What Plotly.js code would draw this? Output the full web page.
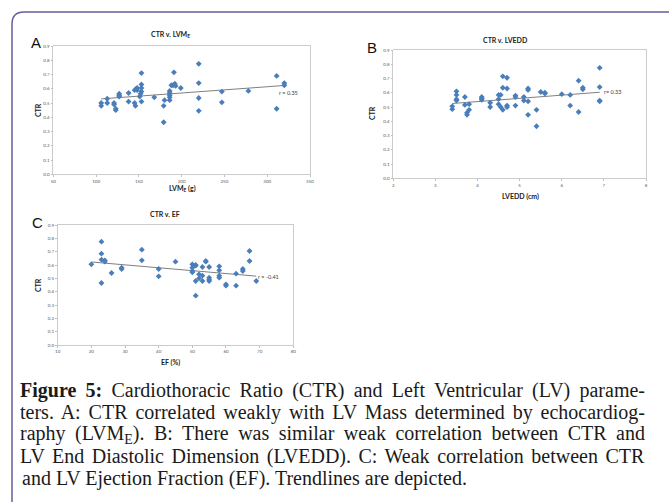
<!DOCTYPE html>
<html><head><meta charset="utf-8">
<script src="https://cdn.plot.ly/plotly-3.0.1.min.js"></script>
<style>html,body{margin:0;padding:0;background:#fff;}#chart{width:669px;height:502px;}</style>
</head><body><div id="chart"></div>
<script>
// Panel A: CTR vs LVM_E (g)
const lvmE = [106,106,113,113,121,121,123,123,127,127,127,138,138,145,145,146,147,148,148,151,152,153,153,153,153,153,168,179,180,179,186,186,186,186,186,188,190,191,192,193,199,220,220,220,220,247,247,278,311,311,320,320];
const ctrA = [0.50,0.48,0.53,0.50,0.50,0.49,0.46,0.45,0.565,0.555,0.545,0.57,0.51,0.59,0.50,0.48,0.60,0.59,0.605,0.545,0.565,0.71,0.63,0.605,0.58,0.51,0.54,0.48,0.52,0.365,0.585,0.57,0.555,0.54,0.52,0.625,0.625,0.715,0.635,0.62,0.605,0.775,0.64,0.535,0.445,0.58,0.505,0.585,0.69,0.46,0.64,0.625];
// Panel B: CTR vs LVEDD (cm)
const lvedd = [3.4,3.4,3.5,3.5,3.5,3.5,3.7,3.7,3.75,3.75,3.8,3.8,4.1,4.1,4.1,4.3,4.3,4.5,4.5,4.5,4.55,4.55,4.6,4.6,4.6,4.7,4.7,4.7,4.7,4.9,4.9,4.9,5.1,5.1,5.2,5.2,5.2,5.2,5.4,5.4,5.5,5.6,5.6,6.0,6.2,6.2,6.4,6.4,6.5,6.5,6.9,6.9,6.9,6.9];
const ctrB = [0.505,0.485,0.61,0.585,0.555,0.545,0.57,0.515,0.46,0.445,0.52,0.48,0.57,0.56,0.55,0.53,0.50,0.585,0.555,0.52,0.585,0.50,0.715,0.635,0.48,0.705,0.63,0.51,0.50,0.58,0.57,0.51,0.57,0.545,0.63,0.62,0.54,0.445,0.48,0.365,0.605,0.60,0.595,0.59,0.585,0.51,0.685,0.465,0.635,0.625,0.775,0.64,0.545,0.54];
// Panel C: CTR vs EF (%)
const ef = [20,23,23,23,23,24,24,26,29,29,35,35,40,40,45,50,50,50,50,51,51,51,51,52,52,53,53,53,54,54,55,55,55,55,58,58,58,58,60,60,63,63,65,65,67,67,69];
const ctrC = [0.605,0.775,0.685,0.64,0.465,0.635,0.625,0.54,0.58,0.57,0.715,0.635,0.57,0.515,0.625,0.605,0.58,0.555,0.545,0.60,0.595,0.48,0.37,0.53,0.50,0.585,0.52,0.48,0.63,0.625,0.585,0.505,0.49,0.48,0.59,0.56,0.52,0.505,0.455,0.445,0.535,0.445,0.57,0.555,0.705,0.63,0.48];

const titles = ['CTR v. LVM<sub>E</sub>','CTR v. LVEDD','CTR v. EF'];
const xTitles = ['LVM<sub>E</sub> (g)','LVEDD (cm)','EF (%)'];
const rLabels = ['r = 0.35','r= 0.33','r = -0.41'];
const captionLines = [
 '<b>Figure 5:</b> Cardiothoracic Ratio (CTR) and Left Ventricular (LV) parame-',
 'ters. A: CTR correlated weakly with LV Mass determined by echocardiog-',
 'raphy (LVM<sub>E</sub>). B: There was similar weak correlation between CTR and',
 'LV End Diastolic Dimension (LVEDD). C: Weak correlation between CTR',
 'and LV Ejection Fraction (EF). Trendlines are depicted.'
];

function fit(xs, ys){
  const n=xs.length; let sx=0,sy=0,sxx=0,sxy=0;
  for(let i=0;i<n;i++){sx+=xs[i];sy+=ys[i];sxx+=xs[i]*xs[i];sxy+=xs[i]*ys[i];}
  const b=(n*sxy-sx*sy)/(n*sxx-sx*sx), a=(sy-b*sx)/n;
  const x0=Math.min(...xs), x1=Math.max(...xs);
  return {x:[x0,x1], y:[a+b*x0,a+b*x1]};
}

const W=669,H=502;
const boxes = [
  {l:53.3,r:310,t:46,b:174.3, range:[50,350], dtick:50},
  {l:393.3,r:646,t:50,b:178.3, range:[2,8], dtick:1},
  {l:57.7,r:293.3,t:225,b:345, range:[10,80], dtick:10}
];
const series = [[lvmE,ctrA],[lvedd,ctrB],[ef,ctrC]];
const blue='#4a7ebb';
const traces=[]; const layout={width:W,height:H,margin:{l:0,r:0,t:0,b:0},paper_bgcolor:'#fff',plot_bgcolor:'#fff',showlegend:false,annotations:[],shapes:[]};
const axisFont={family:'Lato, Liberation Sans, sans-serif',size:4.5,color:'#595959'};
const lab=['A','B','C'];
const letterPos=[[36,42],[372,47],[37,222]];
const titlePos=[[170,35],[505,40],[165,214]];
const yTitlePos=[[38,110],[372,113],[38,285]];
const xTitlePos=[[182,188],[520,196],[170,362]];
const rPos=[[325,0.568],[7.2,0.602],[72.5,0.513]];
boxes.forEach((bx,i)=>{
  const k=i===0?'':String(i+1);
  const xa='x'+k, ya='y'+k;
  const [xs,ys]=series[i];
  const f=fit(xs,ys);
  traces.push({type:'scatter',mode:'lines',x:f.x,y:f.y,xaxis:xa,yaxis:ya,line:{color:'#7f7f7f',width:1},hoverinfo:'skip'});
  traces.push({type:'scatter',mode:'markers',x:xs,y:ys,xaxis:xa,yaxis:ya,marker:{symbol:'diamond',size:4.5,color:blue}});
  layout['xaxis'+k]={domain:[bx.l/W,bx.r/W],anchor:ya,range:bx.range,dtick:bx.dtick,tick0:bx.range[0],showgrid:false,zeroline:false,showline:true,linecolor:'#bfbfbf',linewidth:0.8,mirror:true,ticks:'outside',ticklen:2,tickcolor:'#bfbfbf',tickfont:axisFont,fixedrange:true};
  layout['yaxis'+k]={domain:[1-bx.b/H,1-bx.t/H],anchor:xa,range:[0,0.9],dtick:0.1,tick0:0,tickformat:'.1f',showgrid:false,zeroline:false,showline:true,linecolor:'#bfbfbf',linewidth:0.8,mirror:true,ticks:'outside',ticklen:2,tickcolor:'#bfbfbf',tickfont:axisFont,fixedrange:true};
  const A=layout.annotations;
  A.push({xref:'paper',yref:'paper',x:letterPos[i][0]/W,y:1-letterPos[i][1]/H,text:lab[i],showarrow:false,xanchor:'center',yanchor:'middle',font:{family:'Liberation Sans, Arial, sans-serif',size:15,color:'#111'}});
  A.push({xref:'paper',yref:'paper',x:titlePos[i][0]/W,y:1-titlePos[i][1]/H,text:'<b>'+titles[i]+'</b>',showarrow:false,xanchor:'center',yanchor:'middle',font:{family:'Lato, sans-serif',size:7,color:'#222'}});
  A.push({xref:'paper',yref:'paper',x:yTitlePos[i][0]/W,y:1-yTitlePos[i][1]/H,text:'<b>CTR</b>',textangle:-90,showarrow:false,xanchor:'center',yanchor:'middle',font:{family:'Lato, sans-serif',size:7,color:'#222'}});
  A.push({xref:'paper',yref:'paper',x:xTitlePos[i][0]/W,y:1-xTitlePos[i][1]/H,text:'<b>'+xTitles[i]+'</b>',showarrow:false,xanchor:'center',yanchor:'middle',font:{family:'Lato, sans-serif',size:7,color:'#222'}});
  A.push({xref:xa,yref:ya,x:rPos[i][0],y:rPos[i][1],text:rLabels[i],showarrow:false,xanchor:'center',yanchor:'middle',font:{family:'Lato, sans-serif',size:5.5,color:'#404040'}});
});
const capY=[390.5,412.5,434.5,456,478];
captionLines.forEach((t,i)=>{
  layout.annotations.push({xref:'paper',yref:'paper',x:20/W,y:1-capY[i]/H,text:t,showarrow:false,xanchor:'left',yanchor:'middle',font:{family:'Liberation Serif, Times New Roman, serif',size:20,color:'#1a1a1a'}});
});
// frame
layout.shapes.push({type:'path',xref:'paper',yref:'paper',path:`M ${12/W},${-0.1} L ${12/W},${1-24/H} Q ${12/W},${1-12/H} ${24/W},${1-12/H} L 1.1,${1-12/H}`,line:{color:'#6a5ea0',width:1.5}});
Plotly.newPlot('chart',traces,layout,{staticPlot:true}).then(()=>{
  // justify caption lines (all but last) to the block width
  const left=20, right=645;
  const prefixes=captionLines.map(c=>c.replace(/<[^>]+>/g,'').slice(0,10));
  document.querySelectorAll('.annotation-text').forEach(el=>{
    const txt=el.textContent;
    const idx=prefixes.findIndex(p=>txt.startsWith(p));
    if(idx<0||idx===captionLines.length-1) return;
    const b0=el.getBoundingClientRect();
    const spaces=(txt.match(/ /g)||[]).length;
    if(!spaces) return;
    const ws=(right-left-b0.width)/spaces;
    el.style.wordSpacing=ws.toFixed(3)+'px';
    const b1=el.getBoundingClientRect();
    const x0=parseFloat(el.getAttribute('x')||'0');
    el.setAttribute('x',(x0+(left-b1.left)).toFixed(2));
  });
});
</script></body></html>
